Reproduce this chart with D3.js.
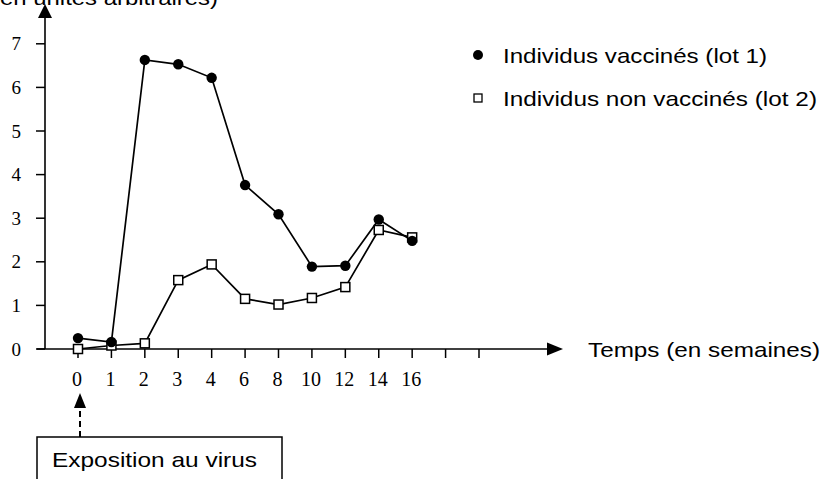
<!DOCTYPE html>
<html>
<head>
<meta charset="utf-8">
<script src="https://cdn.jsdelivr.net/npm/d3@7/dist/d3.min.js"></script>
<style>
  html, body { margin: 0; padding: 0; background: #fff; }
  svg { display: block; }
</style>
</head>
<body>
<svg id="chart" width="823" height="479"></svg>
<script>
// ---- data ----
const weeks = ["0", "1", "2", "3", "4", "6", "8", "10", "12", "14", "16"];
const extraTicks = ["x1", "x2"]; // two unlabeled ticks after 16
const vaccinated = [0.25, 0.16, 6.63, 6.53, 6.22, 3.76, 3.09, 1.89, 1.91, 2.97, 2.48];
const nonVaccinated = [0.0, 0.08, 0.13, 1.58, 1.94, 1.15, 1.02, 1.17, 1.42, 2.73, 2.56];
const yTicks = [0, 1, 2, 3, 4, 5, 6, 7];
const legendLabels = ["Individus vaccinés (lot 1)", "Individus non vaccinés (lot 2)"];
const yTitle = "(en unités arbitraires)";
const xTitle = "Temps (en semaines)";
const noteText = "Exposition au virus";

// ---- layout ----
const svg = d3.select("#chart");
const axisX = 45, axisY = 349;
const x = d3.scalePoint().domain(weeks.concat(extraTicks)).range([78, 479]);
const y = d3.scaleLinear().domain([0, 7]).range([axisY, 43.8]);
const serif = "'Liberation Serif', 'Times New Roman', serif";
const sans = "'Liberation Sans', Arial, sans-serif";

// y axis line + arrow
svg.append("line").attr("x1", axisX).attr("x2", axisX).attr("y1", axisY).attr("y2", 14)
  .attr("stroke", "#000").attr("stroke-width", 1.6);
svg.append("path").attr("d", `M${axisX},4 L${axisX - 7},18 L${axisX + 7},18 Z`).attr("fill", "#000");

// x axis line + arrow
svg.append("line").attr("x1", 37).attr("x2", 550).attr("y1", axisY).attr("y2", axisY)
  .attr("stroke", "#000").attr("stroke-width", 1.6);
svg.append("path").attr("d", `M563,${axisY} L547,${axisY - 6.5} L547,${axisY + 6.5} Z`).attr("fill", "#000");

// y ticks
const yt = svg.append("g");
yTicks.forEach(v => {
  yt.append("line").attr("x1", axisX - 9).attr("x2", axisX).attr("y1", y(v)).attr("y2", y(v))
    .attr("stroke", "#000").attr("stroke-width", 1.5);
  yt.append("text").attr("x", 21).attr("y", y(v)).attr("dy", "0.35em")
    .attr("text-anchor", "end").attr("font-family", serif).attr("font-size", 19)
    .text(v);
});

// x ticks
const xt = svg.append("g");
x.domain().forEach((k, i) => {
  xt.append("line").attr("x1", x(k)).attr("x2", x(k)).attr("y1", axisY).attr("y2", axisY + 9)
    .attr("stroke", "#000").attr("stroke-width", 1.5);
  if (i < weeks.length) {
    xt.append("text").attr("x", x(k) - 1).attr("y", 386)
      .attr("text-anchor", "middle").attr("font-family", serif).attr("font-size", 20)
      .text(k);
  }
});

// lines
const line = d3.line().x((d, i) => x(weeks[i])).y(d => y(d));
svg.append("path").datum(nonVaccinated).attr("d", line)
  .attr("fill", "none").attr("stroke", "#000").attr("stroke-width", 1.7);
svg.append("path").datum(vaccinated).attr("d", line)
  .attr("fill", "none").attr("stroke", "#000").attr("stroke-width", 1.7);

// markers: non-vaccinated squares
const sq = 9;
svg.append("g").selectAll("rect").data(nonVaccinated).join("rect")
  .attr("x", (d, i) => x(weeks[i]) - sq / 2).attr("y", d => y(d) - sq / 2)
  .attr("width", sq).attr("height", sq)
  .attr("fill", "#fff").attr("stroke", "#000").attr("stroke-width", 1.5);
// vaccinated circles
svg.append("g").selectAll("circle").data(vaccinated).join("circle")
  .attr("cx", (d, i) => x(weeks[i])).attr("cy", d => y(d)).attr("r", 5.2)
  .attr("fill", "#000");

// legend
svg.append("circle").attr("cx", 478).attr("cy", 55).attr("r", 5).attr("fill", "#000");
svg.append("rect").attr("x", 474).attr("y", 94).attr("width", 8).attr("height", 8)
  .attr("fill", "#fff").attr("stroke", "#000").attr("stroke-width", 1.3);
svg.append("text").attr("x", 503).attr("y", 62.5).attr("font-family", sans).attr("font-size", 21)
  .attr("textLength", 264).attr("lengthAdjust", "spacingAndGlyphs").text(legendLabels[0]);
svg.append("text").attr("x", 503).attr("y", 106).attr("font-family", sans).attr("font-size", 21)
  .attr("textLength", 314).attr("lengthAdjust", "spacingAndGlyphs").text(legendLabels[1]);

// axis titles
svg.append("text").attr("x", -8).attr("y", 5).attr("font-family", sans).attr("font-size", 21)
  .attr("textLength", 226).attr("lengthAdjust", "spacingAndGlyphs").text(yTitle);
svg.append("text").attr("x", 588).attr("y", 357).attr("font-family", sans).attr("font-size", 21)
  .attr("textLength", 232).attr("lengthAdjust", "spacingAndGlyphs").text(xTitle);

// annotation: dashed arrow + box
const ax = x(weeks[0]) + 2;
svg.append("line").attr("x1", ax).attr("x2", ax).attr("y1", 437).attr("y2", 407)
  .attr("stroke", "#000").attr("stroke-width", 2).attr("stroke-dasharray", "6,4");
svg.append("path").attr("d", `M${ax},393 L${ax - 6},408 L${ax + 6},408 Z`).attr("fill", "#000");
svg.append("rect").attr("x", 37).attr("y", 437).attr("width", 245).attr("height", 60)
  .attr("fill", "none").attr("stroke", "#000").attr("stroke-width", 1.5);
svg.append("text").attr("x", 52).attr("y", 467).attr("font-family", sans).attr("font-size", 21)
  .attr("textLength", 205).attr("lengthAdjust", "spacingAndGlyphs").text(noteText);
</script>
</body>
</html>
